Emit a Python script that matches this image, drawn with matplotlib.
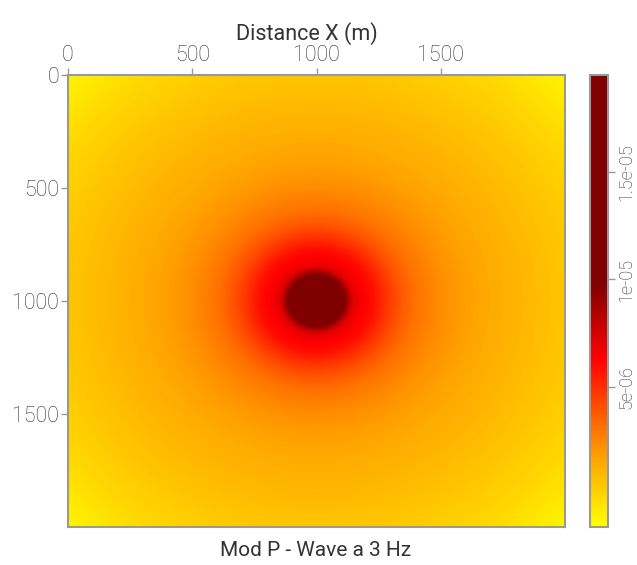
import numpy as np
import matplotlib
matplotlib.use('Agg')
import matplotlib.pyplot as plt
import matplotlib.tri as mtri
from matplotlib.colors import LinearSegmentedColormap

plt.rcParams['font.family'] = ['Roboto', 'DejaVu Sans']

# |P| around the source (source at 1000, 1000)
source_x = 1000
source_y = 1000
ring_radius = [0, 50, 90, 115, 135, 150, 185, 230, 275, 330, 400,
               500, 600, 700, 850, 1000, 1200, 1450]
ring_amp = [2.6e-05, 1.8e-05, 1.25e-05, 9.8e-06, 8.0e-06, 7.0e-06, 6.4e-06,
            5.9e-06, 5.0e-06, 4.0e-06, 3.1e-06, 2.35e-06, 1.85e-06, 1.45e-06,
            1.0e-06, 0.55e-06, -0.1e-06, -1.3e-06]

v_min = -1.5e-06
v_max = 1.95e-05
cbar_ticks = [5e-06, 1e-05, 1.5e-05]
cbar_labels = ['5e-06', '1e-05', '1.5e-05']
axis_ticks = [0, 500, 1000, 1500]

# colour scale: yellow -> orange -> red -> dark red (flat on top)
cmap = LinearSegmentedColormap.from_list('wave', [
    (0.0, '#ffff00'),
    (0.149, '#ffa500'),
    (0.371, '#ff0000'),
    (0.538, '#800000'),
    (1.0, '#800000')])

# points on rings around the source, one value per ring
n_ang = 144
px, py, pz = [], [], []
for r, a in zip(ring_radius, ring_amp):
    if r == 0:
        px.append(source_x)
        py.append(source_y)
        pz.append(a)
        continue
    th = np.linspace(0, 2 * np.pi, n_ang, endpoint=False)
    px.extend(source_x + r * np.cos(th))
    py.extend(source_y + r * np.sin(th))
    pz.extend([a] * n_ang)
tri = mtri.Triangulation(px, py)
interp = mtri.LinearTriInterpolator(tri, np.array(pz))
gx, gy = np.meshgrid(np.linspace(0, 2000, 401), np.linspace(0, 2000, 401))
field = interp(gx, gy)

fig = plt.figure(figsize=(6.37, 5.65), dpi=100)
ax = fig.add_axes([0.1068, 0.0673, 0.7802, 0.8])
im = ax.imshow(field, extent=(0, 2000, 2000, 0), origin='upper', cmap=cmap,
               vmin=v_min, vmax=v_max, aspect='auto', interpolation='bilinear')
ax.set_xlim(0, 2000)
ax.set_ylim(2000, 0)
ax.set_xticks(axis_ticks)
ax.set_yticks(axis_ticks)
ax.xaxis.tick_top()
ax.tick_params(direction='out', length=5, width=1, color='#999999',
               labelcolor='#333333', labelsize=15.5, pad=1.5)
for lab in ax.get_xticklabels() + ax.get_yticklabels():
    lab.set_fontweight('light')
for sp in ax.spines.values():
    sp.set_color('#999999')
    sp.set_linewidth(1.5)
ax.set_xlabel('Distance X (m)', fontsize=15.5, color='#333333')
ax.xaxis.set_label_position('top')
ax.xaxis.set_label_coords(0.481, 1.078)

cax = fig.add_axes([0.9262, 0.0673, 0.0283, 0.8])
cb = fig.colorbar(im, cax=cax)
cb.set_ticks(cbar_ticks)
cb.set_ticklabels(cbar_labels)
cb.outline.set_edgecolor('#999999')
cb.outline.set_linewidth(1.5)
cax.tick_params(direction='out', length=5, width=1, color='#999999',
                labelcolor='#333333', labelsize=13, pad=2)
for lab in cax.get_yticklabels():
    lab.set_rotation(90)
    lab.set_va('center')
    lab.set_fontweight('light')

fig.text(0.496, 0.0265, 'Mod P - Wave a 3 Hz', ha='center', va='center',
         fontsize=15, color='#333333')

fig.savefig('out.png', dpi=100)
